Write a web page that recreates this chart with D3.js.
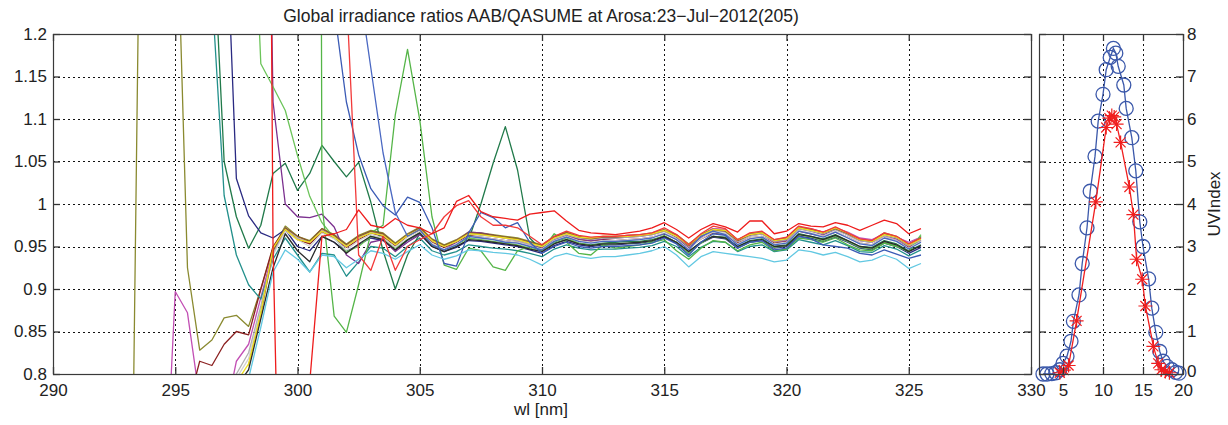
<!DOCTYPE html>
<html>
<head>
<meta charset="utf-8">
<script src="https://cdn.jsdelivr.net/npm/d3@7"></script>
<style>
body { margin: 0; background: #fff; }
svg text { font-family: "Liberation Sans", Arial, Helvetica, sans-serif; fill: #222; }
</style>
</head>
<body>
<svg id="chart" width="1228" height="425"></svg>
<script>
// ---- axis ticks / labels
const wlTicks = [290, 295, 300, 305, 310, 315, 320, 325, 330];
const ratioTicks = [0.8, 0.85, 0.9, 0.95, 1, 1.05, 1.1, 1.15, 1.2];
const ratioTickLabels = ["0.8", "0.85", "0.9", "0.95", "1", "1.05", "1.1", "1.15", "1.2"];
const hourTicks = [5, 10, 15, 20];
const uvTicks = [0, 1, 2, 3, 4, 5, 6, 7, 8];

// ---- AAB/QASUME ratio scans, one value every 0.5 nm from the start wavelength up to 325.5 nm
const oliveStart = 293;
const oliveRatio = [0.10,1.25,1.70,1.95,1.42,0.925,0.828,0.840,0.866,0.869,0.856,0.900,
  0.948,0.974,0.962,0.957,0.971,0.964,0.953,0.963,0.969,0.966,
  0.954,0.965,0.973,0.959,0.952,0.958,0.967,0.966,0.964,0.962,
  0.960,0.956,0.952,0.962,0.967,0.962,0.960,0.962,0.962,0.963,
  0.964,0.966,0.970,0.964,0.953,0.964,0.971,0.969,0.958,0.965,
  0.967,0.958,0.960,0.973,0.970,0.967,0.972,0.966,0.959,0.957,
  0.966,0.962,0.953,0.961];

const pinkStart = 294.5;
const pinkRatio = [0.600,0.897,0.872,0.770,0.700,0.745,0.815,0.835,0.890,
  0.945,0.968,0.959,0.954,0.969,0.962,0.950,0.960,0.967,0.963,
  0.952,0.963,0.970,0.957,0.950,0.957,0.966,0.965,0.962,0.960,
  0.958,0.954,0.950,0.960,0.965,0.960,0.959,0.961,0.962,0.963,
  0.963,0.965,0.969,0.962,0.951,0.962,0.971,0.970,0.958,0.964,
  0.966,0.957,0.959,0.972,0.971,0.967,0.972,0.967,0.960,0.958,
  0.965,0.961,0.955,0.961];

const maroonStart = 295.5;
const maroonRatio = [0.760,0.815,0.810,0.835,0.850,0.846,0.900,
  0.950,0.971,0.958,0.953,0.967,0.960,0.949,0.958,0.966,0.962,
  0.951,0.962,0.969,0.955,0.949,0.955,0.963,0.961,0.959,0.957,
  0.955,0.951,0.948,0.957,0.962,0.958,0.956,0.958,0.957,0.958,
  0.959,0.961,0.965,0.959,0.949,0.959,0.966,0.964,0.954,0.960,
  0.962,0.954,0.956,0.968,0.965,0.962,0.967,0.961,0.954,0.952,
  0.961,0.957,0.949,0.956];

const tealStart = 296;
const tealRatio = [2.000,1.250,1.010,0.940,0.905,0.888,
  0.935,0.960,0.940,0.920,0.942,0.940,0.915,0.932,0.950,0.948,
  0.938,0.950,0.960,0.945,0.940,0.944,0.952,0.950,0.948,0.947,
  0.945,0.942,0.938,0.947,0.952,0.948,0.946,0.947,0.947,0.948,
  0.949,0.951,0.956,0.950,0.938,0.949,0.956,0.955,0.944,0.950,
  0.952,0.944,0.946,0.958,0.955,0.952,0.957,0.951,0.944,0.943,
  0.951,0.947,0.939,0.946];

const darkGreenStart = 296.5;
const darkGreenRatio = [1.350,1.050,0.985,0.948,0.975,
  1.036,1.048,1.016,1.036,1.069,1.050,1.032,1.049,1.002,0.945,
  0.900,0.940,0.965,0.952,0.945,0.950,0.958,1.000,1.048,1.091,
  1.040,0.960,0.945,0.954,0.958,0.954,0.952,0.954,0.955,0.956,
  0.956,0.958,0.962,0.955,0.944,0.955,0.962,0.961,0.950,0.957,
  0.959,0.950,0.952,0.965,0.962,0.959,0.964,0.957,0.950,0.949,
  0.957,0.953,0.945,0.952];

const navyStart = 296.5;
const navyRatio = [2.500,1.400,1.030,0.986,0.966,
  0.960,0.970,0.950,0.945,0.962,0.955,0.944,0.952,0.960,0.957,
  0.946,0.957,0.965,0.950,0.944,0.949,0.957,0.956,0.954,0.952,
  0.950,0.946,0.942,0.951,0.956,0.952,0.950,0.952,0.952,0.953,
  0.954,0.956,0.961,0.954,0.942,0.954,0.961,0.959,0.948,0.955,
  0.957,0.948,0.950,0.962,0.960,0.956,0.961,0.955,0.948,0.946,
  0.954,0.950,0.942,0.949];

const purpleStart = 298.5;
const purpleRatio = [2.000,
  1.120,1.000,0.985,0.984,0.988,0.973,0.940,0.930,0.955,0.958,
  0.944,0.955,0.964,0.952,0.946,0.955,0.967,0.966,0.963,0.960,
  0.957,0.953,0.949,0.958,0.963,0.959,0.957,0.959,0.960,0.961,
  0.962,0.964,0.968,0.961,0.949,0.961,0.970,0.968,0.956,0.963,
  0.965,0.956,0.957,0.971,0.968,0.964,0.970,0.964,0.957,0.955,
  0.963,0.959,0.951,0.958];

const lightGreenBStart = 298;
const lightGreenBRatio = [1.500,1.165,
  1.138,1.110,1.057,1.009,0.978,0.960,0.944,0.950,0.962,0.960,
  0.948,0.958,0.966,0.952,0.946,0.952,0.960,0.958,0.956,0.954,
  0.952,0.948,0.944,0.955,0.960,0.954,0.951,0.953,0.953,0.954,
  0.955,0.957,0.963,0.955,0.942,0.954,0.962,0.960,0.949,0.955,
  0.958,0.949,0.951,0.964,0.961,0.957,0.962,0.956,0.949,0.947,
  0.955,0.951,0.944,0.964];

const lightGreenAStart = 300.5;
const lightGreenARatio = [6.000,
  1.000,0.868,0.849,0.905,0.966,0.975,1.105,1.182,1.099,0.985,
  0.928,0.923,0.948,0.945,0.926,0.922,0.945,0.950,0.945,0.965,
  0.955,0.942,0.940,0.952,0.948,0.950,0.952,0.955,0.958,0.945,
  0.935,0.948,0.957,0.955,0.945,0.952,0.955,0.945,0.947,0.960,
  0.958,0.955,0.960,0.952,0.946,0.945,0.954,0.950,0.944,0.962];

const grey2Start = 297;
const grey2Ratio = [0.775,0.795,0.818,0.875,
  0.940,0.968,0.958,0.950,0.966,0.959,0.946,0.957,0.964,0.960,
  0.949,0.961,0.968,0.954,0.946,0.953,0.962,0.961,0.959,0.957,
  0.955,0.951,0.947,0.957,0.962,0.957,0.955,0.957,0.957,0.958,
  0.959,0.961,0.966,0.959,0.947,0.959,0.967,0.965,0.953,0.960,
  0.962,0.953,0.955,0.969,0.966,0.962,0.968,0.961,0.954,0.952,
  0.961,0.957,0.948,0.956];

const grey1Start = 297;
const grey1Ratio = [0.780,0.800,0.825,0.880,
  0.942,0.972,0.960,0.955,0.970,0.962,0.950,0.960,0.967,0.964,
  0.952,0.964,0.971,0.957,0.950,0.956,0.965,0.963,0.962,0.960,
  0.957,0.953,0.950,0.959,0.964,0.960,0.958,0.960,0.960,0.961,
  0.962,0.964,0.968,0.962,0.950,0.962,0.969,0.967,0.956,0.962,
  0.965,0.956,0.958,0.971,0.968,0.965,0.970,0.964,0.957,0.955,
  0.963,0.960,0.951,0.958];

const brownStart = 298;
const brownRatio = [0.810,0.870,
  0.945,0.972,0.962,0.956,0.971,0.963,0.952,0.962,0.968,0.965,
  0.953,0.964,0.972,0.958,0.951,0.957,0.966,0.965,0.963,0.961,
  0.959,0.955,0.951,0.961,0.966,0.961,0.959,0.961,0.961,0.962,
  0.963,0.965,0.969,0.963,0.951,0.963,0.970,0.968,0.957,0.964,
  0.966,0.957,0.959,0.972,0.970,0.966,0.971,0.965,0.958,0.956,
  0.965,0.961,0.952,0.960];

const blackStart = 297.5;
const blackRatio = [0.785,0.805,0.865,
  0.925,0.965,0.945,0.932,0.962,0.955,0.942,0.953,0.962,0.958,
  0.946,0.958,0.966,0.950,0.944,0.950,0.958,0.957,0.955,0.953,
  0.951,0.947,0.944,0.953,0.958,0.953,0.951,0.953,0.953,0.954,
  0.955,0.957,0.962,0.955,0.944,0.955,0.962,0.960,0.950,0.956,
  0.958,0.950,0.951,0.964,0.962,0.958,0.963,0.957,0.950,0.948,
  0.956,0.952,0.944,0.951];

const yellowStart = 297.5;
const yellowRatio = [0.790,0.812,0.872,
  0.948,0.970,0.958,0.955,0.968,0.961,0.950,0.960,0.966,0.963,
  0.952,0.963,0.970,0.957,0.950,0.956,0.965,0.964,0.962,0.960,
  0.958,0.954,0.950,0.960,0.965,0.961,0.960,0.962,0.962,0.962,
  0.963,0.965,0.969,0.962,0.952,0.963,0.970,0.969,0.958,0.964,
  0.966,0.957,0.959,0.972,0.969,0.966,0.972,0.966,0.958,0.956,
  0.964,0.961,0.952,0.959];

const blueAStart = 301;
const blueARatio = [3.000,1.230,1.120,1.058,1.018,0.998,0.987,1.008,1.002,0.972,
  0.930,0.927,0.966,0.990,0.984,0.972,0.978,0.955,0.942,0.950,
  0.955,0.950,0.948,0.950,0.950,0.951,0.952,0.954,0.960,0.953,
  0.940,0.955,0.965,0.963,0.948,0.955,0.957,0.946,0.948,0.962,
  0.959,0.952,0.950,0.948,0.942,0.940,0.946,0.941,0.936,0.940];

const blueBStart = 302;
const blueBRatio = [2.500,1.260,1.160,1.060,0.990,0.962,0.970,0.952,0.946,0.952,
  0.962,0.960,0.958,0.955,0.954,0.950,0.946,0.956,0.961,0.956,
  0.954,0.956,0.956,0.957,0.958,0.960,0.965,0.958,0.946,0.962,
  0.968,0.964,0.952,0.959,0.961,0.952,0.954,0.968,0.965,0.961,
  0.967,0.960,0.953,0.951,0.960,0.956,0.947,0.955];

const cyanStart = 297.5;
const cyanRatio = [0.760,0.795,0.855,
  0.920,0.946,0.935,0.920,0.940,0.938,0.925,0.935,0.945,0.942,
  0.935,0.944,0.952,0.940,0.935,0.939,0.946,0.945,0.943,0.942,
  0.940,0.935,0.928,0.938,0.942,0.938,0.936,0.938,0.938,0.940,
  0.942,0.945,0.950,0.940,0.926,0.938,0.944,0.942,0.940,0.938,
  0.936,0.932,0.934,0.946,0.944,0.940,0.943,0.938,0.932,0.934,
  0.940,0.935,0.924,0.930];

const redBStart = 301.5;
const redBRatio = [2.600,1.250,0.940,0.922,0.962,0.922,0.950,0.958,0.965,0.985,
  0.998,1.004,0.985,0.975,0.975,0.972,0.962,0.952,0.962,0.968,
  0.963,0.961,0.962,0.962,0.963,0.964,0.966,0.972,0.964,0.952,
  0.965,0.974,0.971,0.958,0.966,0.968,0.958,0.961,0.974,0.971,
  0.967,0.973,0.966,0.959,0.957,0.966,0.962,0.953,0.960];

const redAStart = 298.5;
const redARatio = [3.000,0.950,0.300,0.250,0.790,0.962,0.965,0.970,0.993,0.975,
  0.972,0.983,0.975,0.972,0.965,0.972,1.003,1.010,0.991,0.985,
  0.983,0.981,0.988,0.990,0.992,0.980,0.969,0.966,0.965,0.964,
  0.966,0.968,0.972,0.978,0.970,0.960,0.970,0.977,0.973,0.967,
  0.980,0.980,0.965,0.968,0.977,0.974,0.973,0.978,0.975,0.969,
  0.975,0.981,0.977,0.965,0.971];

// ---- UV index over the day (hours)
const qasumeHours = [2.5,3.0,3.6,4.1,4.6,5.0,5.5,6.0,6.3,7.0,7.4,8.0,8.4,9.0,9.4,10.0,10.4,10.9,11.3,11.6,
  11.9,12.6,12.9,13.6,14.1,14.6,15.0,15.7,16.1,16.6,17.1,17.5,18.0,18.6,19.1,19.5];
const qasumeUV = [0.00,0.00,0.01,0.03,0.10,0.25,0.42,0.77,1.24,1.86,2.60,3.44,4.30,5.12,5.95,6.58,7.16,7.45,7.66,7.55,
  7.24,6.80,6.25,5.56,4.78,3.58,3.00,2.24,1.55,0.98,0.53,0.30,0.18,0.10,0.04,0.02];
const aabHours = [4.6,5.1,5.7,6.7,9.1,10.4,10.8,11.1,11.4,11.7,12.2,13.3,13.8,14.2,14.9,15.3,16.3,16.9,17.3,17.8,18.3];
const aabUV = [0.03,0.09,0.20,1.25,4.05,5.80,6.02,6.08,6.05,5.88,5.45,4.40,3.75,2.70,2.23,1.60,0.65,0.25,0.10,0.06,0.03];

// drawing order = matlab plot order, last on top
const scans = [
  {name: "olive", start: oliveStart, values: oliveRatio},
  {name: "pink", start: pinkStart, values: pinkRatio},
  {name: "maroon", start: maroonStart, values: maroonRatio},
  {name: "teal", start: tealStart, values: tealRatio},
  {name: "darkgreen", start: darkGreenStart, values: darkGreenRatio},
  {name: "navy", start: navyStart, values: navyRatio},
  {name: "purple", start: purpleStart, values: purpleRatio},
  {name: "lightgreenB", start: lightGreenBStart, values: lightGreenBRatio},
  {name: "lightgreenA", start: lightGreenAStart, values: lightGreenARatio},
  {name: "grey2", start: grey2Start, values: grey2Ratio},
  {name: "grey1", start: grey1Start, values: grey1Ratio},
  {name: "brown", start: brownStart, values: brownRatio},
  {name: "black", start: blackStart, values: blackRatio},
  {name: "yellow", start: yellowStart, values: yellowRatio},
  {name: "blueA", start: blueAStart, values: blueARatio},
  {name: "blueB", start: blueBStart, values: blueBRatio},
  {name: "cyan", start: cyanStart, values: cyanRatio},
  {name: "redB", start: redBStart, values: redBRatio},
  {name: "redA", start: redAStart, values: redARatio}
];
const scanColor = {
  olive: "#8a8a30", pink: "#c24fb4", maroon: "#8b2020", teal: "#23908c",
  darkgreen: "#217a4a", navy: "#2a2a82", purple: "#7b2f8f", lightgreenB: "#6cc45a",
  lightgreenA: "#55b548", grey2: "#d2d2d2", grey1: "#b0b0b0", brown: "#8b5a2b",
  black: "#2b2b2b", yellow: "#eee020", blueA: "#3b5bb5", blueB: "#4a68c2",
  cyan: "#62c8e2", redB: "#f23a3a", redA: "#ee1c1c"
};

const svg = d3.select("#chart");
const TXT = "#222";
const FONT = 17;

// left panel: ratio vs wavelength
let left = {x0: 53, x1: 1031, y0: 34, y1: 374};
// right panel: UV index vs time
let right = {x0: 1039, x1: 1183, y0: 34, y1: 374};

let x = d3.scaleLinear().domain([290, 330]).range([left.x0, left.x1]);
let y = d3.scaleLinear().domain([0.8, 1.2]).range([left.y1, left.y0]);
let x2 = d3.scaleLinear().domain([2, 20]).range([right.x0, right.x1]);
let y2 = d3.scaleLinear().domain([0, 8]).range([right.y1, right.y0]);

// grids
let drawGrid = (xs, ys, xTicks, yTicks, box) => {
  let g = svg.append("g").attr("stroke", "#111").attr("stroke-width", 1).attr("stroke-dasharray", "2,3");
  g.selectAll(".gx").data(xTicks.slice(1, -1)).enter().append("line")
    .attr("x1", d => Math.round(xs(d)) + 0.5).attr("x2", d => Math.round(xs(d)) + 0.5)
    .attr("y1", box.y0).attr("y2", box.y1);
  g.selectAll(".gy").data(yTicks.slice(1, -1)).enter().append("line")
    .attr("y1", d => Math.round(ys(d)) + 0.5).attr("y2", d => Math.round(ys(d)) + 0.5)
    .attr("x1", box.x0).attr("x2", box.x1);
};
drawGrid(x, y, wlTicks, ratioTicks, left);
drawGrid(x2, y2, [2].concat(hourTicks), uvTicks, right);

// ratio lines
svg.append("clipPath").attr("id", "clipL").append("rect")
  .attr("x", left.x0).attr("y", left.y0)
  .attr("width", left.x1 - left.x0).attr("height", left.y1 - left.y0);

let line = d3.line().x(d => x(d.wl)).y(d => y(d.v));
let lines = svg.append("g").attr("clip-path", "url(#clipL)");
for (let s of scans) {
  let pts = s.values.map((v, i) => ({wl: s.start + i * 0.5, v: v}));
  lines.append("path")
    .attr("d", line(pts))
    .attr("fill", "none")
    .attr("stroke", scanColor[s.name])
    .attr("stroke-width", 1.3)
    .attr("stroke-linejoin", "round");
}

// UV index curves
let uvLine = d3.line().x(d => x2(d[0])).y(d => y2(d[1]));
let qas = d3.zip(qasumeHours, qasumeUV);
let aab = d3.zip(aabHours, aabUV);
const BLUE = "#3b58aa", RED = "#f01e1e";
svg.append("path").attr("d", uvLine(qas)).attr("fill", "none").attr("stroke", BLUE).attr("stroke-width", 1.3);
svg.append("g").selectAll("circle").data(qas).enter().append("circle")
  .attr("cx", d => x2(d[0])).attr("cy", d => y2(d[1])).attr("r", 7)
  .attr("fill", "none").attr("stroke", BLUE).attr("stroke-width", 1.3);
svg.append("path").attr("d", uvLine(aab)).attr("fill", "none").attr("stroke", RED).attr("stroke-width", 1.3);
svg.append("g").selectAll("path").data(aab).enter().append("path")
  .attr("transform", d => `translate(${x2(d[0])},${y2(d[1])})`)
  .attr("d", "M-7,0H7M0,-7V7M-5,-5L5,5M-5,5L5,-5")
  .attr("fill", "none").attr("stroke", RED).attr("stroke-width", 1.2);

// frames + inward ticks
let styleAxis = (g) => {
  g.select(".domain").remove();
  g.attr("font-size", FONT).attr("font-family", null).attr("color", TXT);
  g.selectAll(".tick line").attr("stroke", "#333").attr("stroke-width", 1.3);
};
let frame = (box) => svg.append("rect")
  .attr("x", box.x0 + 0.5).attr("y", box.y0 + 0.5)
  .attr("width", box.x1 - box.x0).attr("height", box.y1 - box.y0)
  .attr("fill", "none").attr("stroke", "#3a3a3a").attr("stroke-width", 1.2);

svg.append("g").attr("transform", `translate(0,${left.y1})`)
  .call(d3.axisBottom(x).tickValues(wlTicks).tickSize(-7).tickSizeOuter(0).tickPadding(10).tickFormat(d3.format("d")))
  .call(styleAxis);
svg.append("g").attr("transform", `translate(0,${left.y0})`)
  .call(d3.axisTop(x).tickValues(wlTicks).tickSize(-7).tickSizeOuter(0).tickFormat(""))
  .call(styleAxis);
svg.append("g").attr("transform", `translate(${left.x0},0)`)
  .call(d3.axisLeft(y).tickValues(ratioTicks).tickSize(-7).tickSizeOuter(0).tickPadding(6)
    .tickFormat((d, i) => ratioTickLabels[i]))
  .call(styleAxis);
svg.append("g").attr("transform", `translate(${left.x1},0)`)
  .call(d3.axisRight(y).tickValues(ratioTicks).tickSize(-7).tickSizeOuter(0).tickFormat(""))
  .call(styleAxis);
frame(left);

svg.append("g").attr("transform", `translate(0,${right.y1})`)
  .call(d3.axisBottom(x2).tickValues(hourTicks).tickSize(-7).tickSizeOuter(0).tickPadding(10).tickFormat(d3.format("d")))
  .call(styleAxis);
svg.append("g").attr("transform", `translate(0,${right.y0})`)
  .call(d3.axisTop(x2).tickValues(hourTicks).tickSize(-7).tickSizeOuter(0).tickFormat(""))
  .call(styleAxis);
svg.append("g").attr("transform", `translate(${right.x0},0)`)
  .call(d3.axisLeft(y2).tickValues(uvTicks).tickSize(-7).tickSizeOuter(0).tickFormat(""))
  .call(styleAxis);
let uvAxis = svg.append("g").attr("transform", `translate(${right.x1},0)`)
  .call(d3.axisRight(y2).tickValues(uvTicks).tickSize(-7).tickSizeOuter(0).tickPadding(4).tickFormat(d3.format("d")))
  .call(styleAxis);
// the bottom "0" sits just above the "20" tick label, as in the original
uvAxis.selectAll(".tick text").filter(d => d === 0).attr("dy", "0.15em");
frame(right);

// titles
svg.append("text").attr("x", 541).attr("y", 21.5).attr("text-anchor", "middle")
  .attr("font-size", 17.5).text("Global irradiance ratios AAB/QASUME at Arosa:23\u2212Jul\u22122012(205)");
svg.append("text").attr("x", 541).attr("y", 415).attr("text-anchor", "middle")
  .attr("font-size", FONT).text("wl [nm]");
svg.append("text").attr("transform", "translate(1220,204) rotate(-90)").attr("text-anchor", "middle")
  .attr("font-size", FONT).text("UVIndex");
</script>
</body>
</html>
